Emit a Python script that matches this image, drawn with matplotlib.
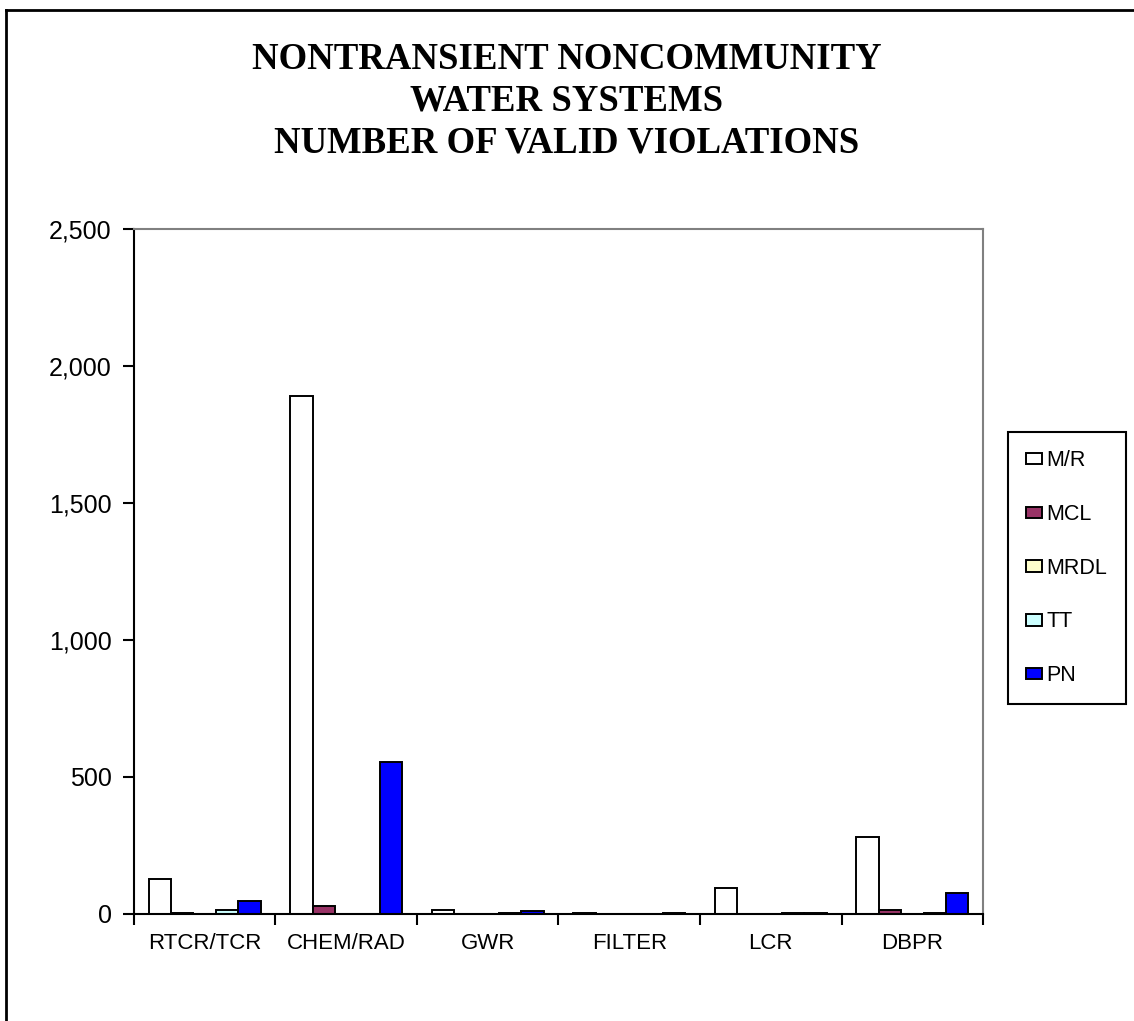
import matplotlib.pyplot as plt
import numpy as np
from matplotlib.lines import Line2D
from matplotlib.ticker import FuncFormatter

# datos
categorias = ["RTCR/TCR", "CHEM/RAD", "GWR", "FILTER", "LCR", "DBPR"]
series = ["M/R", "MCL", "MRDL", "TT", "PN"]
mr = [128, 1888, 14, 4, 95, 280]
mcl = [4, 30, 0, 0, 0, 14]
mrdl = [0, 0, 0, 0, 0, 0]
tt = [15, 0, 4, 0, 4, 4]
pn = [48, 554, 12, 4, 4, 76]
valores = [mr, mcl, mrdl, tt, pn]
colores = ["#FFFFFF", "#993366", "#FFFFCC", "#CCFFFF", "#0000FF"]

fig = plt.figure(figsize=(11.34, 10.21), dpi=100)
ax = fig.add_axes([0.118, 0.105, 0.749, 0.671])

x = np.arange(len(categorias))
ancho = 0.158
for j, (nombre, vals) in enumerate(zip(series, valores)):
    ax.bar(x + (j - 2) * ancho, vals, width=ancho, color=colores[j],
           edgecolor="black", linewidth=1.4, label=nombre, zorder=2)

ax.set_xlim(-0.5, len(categorias) - 0.5)
ax.set_ylim(0, 2500)
ax.set_yticks([0, 500, 1000, 1500, 2000, 2500])
ax.yaxis.set_major_formatter(FuncFormatter(lambda v, p: f"{int(v):,}"))
ax.set_xticks(np.arange(-0.5, len(categorias)))
ax.set_xticklabels([])
ax.set_xticks(x, minor=True)
ax.set_xticklabels(categorias, minor=True, fontsize=16, fontfamily="Liberation Sans")
ax.tick_params(axis="x", which="minor", length=0, pad=14)
ax.tick_params(axis="x", which="major", length=8, width=1.5, direction="out")
ax.tick_params(axis="y", length=8, width=1.5, direction="out", pad=8)
for lbl in ax.get_yticklabels():
    lbl.set_fontsize(18)
    lbl.set_fontfamily("Liberation Sans")

ax.spines["left"].set_linewidth(1.5)
ax.spines["bottom"].set_linewidth(1.5)
ax.spines["top"].set_color("#808080")
ax.spines["right"].set_color("#808080")
ax.spines["top"].set_linewidth(1.5)
ax.spines["right"].set_linewidth(1.5)

fig.text(0.5, 0.959, "NONTRANSIENT NONCOMMUNITY\nWATER SYSTEMS\nNUMBER OF VALID VIOLATIONS",
         ha="center", va="top", fontsize=26.5, fontweight="bold",
         fontfamily="Liberation Serif", linespacing=1.26)

leg = fig.legend(loc="upper left", bbox_to_anchor=(1008 / 1134, 1 - 432 / 1021),
                 prop={"family": "Liberation Sans", "size": 15.5},
                 handlelength=0.75, handleheight=0.45, handletextpad=0.2,
                 labelspacing=1.52, borderpad=0.85, borderaxespad=0, fancybox=False,
                 edgecolor="black", framealpha=1)
leg.get_frame().set_linewidth(1.5)

# marco exterior del grafico
fig.add_artist(Line2D([6 / 1134, 1.0], [1 - 10 / 1021, 1 - 10 / 1021], color="black", lw=2))
fig.add_artist(Line2D([6 / 1134, 6 / 1134], [0, 1 - 10 / 1021], color="black", lw=2))

plt.savefig("out.png", dpi=100)
